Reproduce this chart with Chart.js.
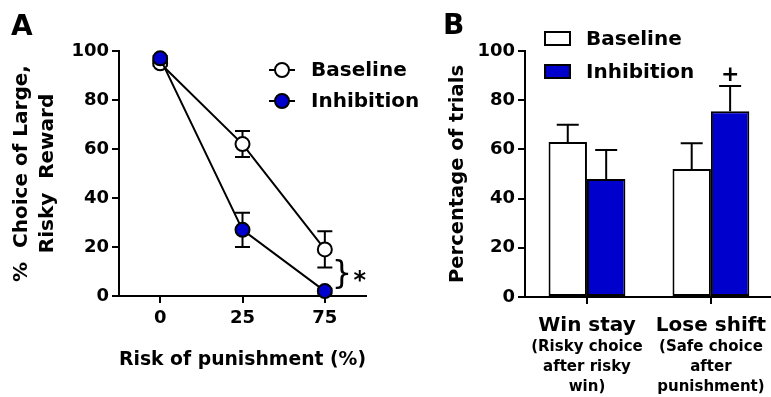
<!DOCTYPE html>
<html>
<head>
<meta charset="utf-8">
<script src="https://cdn.jsdelivr.net/npm/chart.js@4"></script>
<style>
  html, body { margin: 0; padding: 0; background: #fff; overflow: hidden; }
  #wrap { position: relative; width: 771px; height: 397px; overflow: hidden; }
  #chartA { position: absolute; left: 0; top: 0; }
  #chartB { position: absolute; left: 430px; top: 0; }
</style>
</head>
<body>
<div id="wrap">
  <canvas id="chartA" width="430" height="397"></canvas>
  <canvas id="chartB" width="346" height="397"></canvas>
</div>
<script>
/****** Panel A data ******/
var riskLabels = ["0", "25", "75"];
var baselineA = [95, 62, 19];
var baselineErrA = [1, 5.3, 7.4];
var inhibitionA = [97, 27, 2];
var inhibitionErrA = [1, 7, 1];

/****** Panel B data ******/
var strategyLabels = ["Win stay", "Lose shift"];
var strategySubLabels = [["(Risky choice", "after risky", "win)"], ["(Safe choice", "after", "punishment)"]];
var baselineB = [63, 52];
var baselineErrB = [7, 10.5];
var inhibitionB = [48, 75.5];
var inhibitionErrB = [11.8, 10.3];

var yTicks = [0, 20, 40, 60, 80, 100];
var blue = "#0000cc";
var fam = "'DejaVu Sans', sans-serif";

Chart.defaults.font.family = fam;
Chart.defaults.font.weight = "bold";
Chart.defaults.color = "#000";

// error bars drawn from the y scale
function drawErrors(chart, opts) {
  var ctx = chart.ctx, y = chart.scales.y;
  chart.data.datasets.forEach(function (ds, i) {
    var meta = chart.getDatasetMeta(i);
    meta.data.forEach(function (el, j) {
      var v = ds.data[j], e = ds.errors[j], w = opts.capWidth / 2;
      var top = y.getPixelForValue(v + e);
      var bot = opts.upOnly ? y.getPixelForValue(v) : y.getPixelForValue(v - e);
      ctx.save();
      ctx.strokeStyle = "#000";
      ctx.lineWidth = 2;
      ctx.beginPath();
      ctx.moveTo(el.x, top); ctx.lineTo(el.x, bot);
      ctx.moveTo(el.x - w, top); ctx.lineTo(el.x + w, top);
      if (!opts.upOnly) { ctx.moveTo(el.x - w, bot); ctx.lineTo(el.x + w, bot); }
      ctx.stroke();
      ctx.restore();
    });
  });
}
var errorBars = {
  id: "errorBars",
  beforeDatasetsDraw: function (chart, args, opts) { if (opts.under) drawErrors(chart, opts); },
  afterDatasetsDraw: function (chart, args, opts) { if (!opts.under) drawErrors(chart, opts); }
};

function axisGrid() {
  return { drawOnChartArea: false, tickLength: 7, color: "#000", lineWidth: 2, offset: false };
}

/************** Panel A: line chart ******/
var decorA = {
  id: "decorA",
  afterDraw: function (chart) {
    var ctx = chart.ctx, x = chart.scales.x, y = chart.scales.y;
    ctx.save();
    ctx.fillStyle = "#000";
    ctx.font = "bold 28px " + fam;
    ctx.textBaseline = "alphabetic";
    ctx.fillText("A", 11, 35);
    // legend
    chart.data.datasets.forEach(function (ds, i) {
      var cy = 70 + i * 31, cx = 282;
      ctx.strokeStyle = "#000"; ctx.lineWidth = 2;
      ctx.beginPath(); ctx.moveTo(cx - 13, cy); ctx.lineTo(cx + 13, cy); ctx.stroke();
      ctx.beginPath(); ctx.arc(cx, cy, 7, 0, Math.PI * 2);
      ctx.fillStyle = ds.pointBackgroundColor; ctx.fill(); ctx.stroke();
      ctx.fillStyle = "#000";
      ctx.font = "bold 20px " + fam;
      ctx.textBaseline = "middle";
      ctx.fillText(ds.label, 311, cy + 1);
    });
    // significance brace
    var bx = x.getPixelForValue(2) + 17, by = y.getPixelForValue(8.5);
    ctx.font = "normal 32px " + fam;
    ctx.textAlign = "center";
    ctx.textBaseline = "middle";
    ctx.fillText("}", bx, by);
    ctx.font = "bold 24px " + fam;
    ctx.fillText("*", bx + 18, by + 7);
    ctx.restore();
  }
};

new Chart("chartA", {
  type: "line",
  data: {
    labels: riskLabels,
    datasets: [{
      label: "Baseline",
      data: baselineA,
      errors: baselineErrA,
      borderColor: "#000",
      borderWidth: 2,
      pointRadius: 7,
      pointBorderWidth: 2,
      pointBorderColor: "#000",
      pointBackgroundColor: "#fff",
      order: 1,
      clip: false
    }, {
      label: "Inhibition",
      data: inhibitionA,
      errors: inhibitionErrA,
      borderColor: "#000",
      borderWidth: 2,
      pointRadius: 7,
      pointBorderWidth: 2,
      pointBorderColor: "#000",
      pointBackgroundColor: blue,
      order: 0,
      clip: false
    }]
  },
  options: {
    responsive: false,
    animation: false,
    events: [],
    layout: { padding: { top: 51, right: 64, left: 0, bottom: 0 } },
    plugins: {
      legend: { display: false },
      tooltip: { enabled: false },
      errorBars: { capWidth: 15, under: true, upOnly: false }
    },
    scales: {
      x: {
        offset: true,
        grid: axisGrid(),
        border: { color: "#000", width: 2 },
        ticks: { font: { size: 18 }, padding: 5, maxRotation: 0, autoSkip: false },
        title: { display: true, text: "Risk of punishment (%)", font: { size: 19.5 }, padding: { top: 0, bottom: 25 } },
        afterFit: function (s) { s.height = 101; }
      },
      y: {
        min: 0, max: 100,
        afterBuildTicks: function (s) { s.ticks = yTicks.map(function (v) { return { value: v }; }); },
        grid: axisGrid(),
        border: { color: "#000", width: 2 },
        ticks: { font: { size: 18 }, padding: 3 },
        title: { display: true, text: ["%  Choice of Large,", "Risky  Reward"], font: { size: 20, lineHeight: 1.3 }, padding: { top: 9, bottom: 0 } },
        afterFit: function (s) { s.width = 119; }
      }
    }
  },
  plugins: [errorBars, decorA]
});

/************** Panel B: bar chart ******/
var decorB = {
  id: "decorB",
  afterDraw: function (chart) {
    var ctx = chart.ctx, y = chart.scales.y;
    ctx.save();
    ctx.fillStyle = "#000";
    ctx.font = "bold 28px " + fam;
    ctx.fillText("B", 13, 34);
    // legend
    chart.data.datasets.forEach(function (ds, i) {
      var cy = 39 + i * 33;
      ctx.fillStyle = ds.backgroundColor;
      ctx.fillRect(115, cy - 7, 25, 13);
      ctx.strokeStyle = "#000"; ctx.lineWidth = 2;
      ctx.strokeRect(115, cy - 7, 25, 13);
      ctx.fillStyle = "#000";
      ctx.font = "bold 20px " + fam;
      ctx.textBaseline = "middle";
      ctx.fillText(ds.label, 156, cy + 1);
    });
    // "+" above Lose shift inhibition
    var el = chart.getDatasetMeta(1).data[1];
    var ds = chart.data.datasets[1];
    ctx.font = "bold 22px " + fam;
    ctx.textAlign = "center";
    ctx.textBaseline = "middle";
    ctx.fillText("+", el.x, y.getPixelForValue(ds.data[1] + ds.errors[1]) - 11);
    ctx.restore();
  }
};

new Chart("chartB", {
  type: "bar",
  data: {
    labels: strategyLabels,
    datasets: [{
      label: "Baseline",
      data: baselineB,
      errors: baselineErrB,
      backgroundColor: "#fff",
      borderColor: "#000",
      borderWidth: 2,
      borderSkipped: false
    }, {
      label: "Inhibition",
      data: inhibitionB,
      errors: inhibitionErrB,
      backgroundColor: blue,
      borderColor: "#000",
      borderWidth: 2,
      borderSkipped: false
    }]
  },
  options: {
    responsive: false,
    animation: false,
    events: [],
    categoryPercentage: 0.62,
    barPercentage: 1,
    layout: { padding: { top: 51, right: 0, left: 0, bottom: 0 } },
    plugins: {
      legend: { display: false },
      tooltip: { enabled: false },
      errorBars: { capWidth: 22, under: false, upOnly: true }
    },
    scales: {
      x: {
        offset: true,
        weight: 0,
        grid: axisGrid(),
        border: { color: "#000", width: 2 },
        ticks: { font: { size: 20 }, padding: 10, maxRotation: 0, autoSkip: false },
        afterFit: function (s) { s.height = 40; }
      },
      x2: {
        type: "category",
        axis: "x",
        position: "bottom",
        labels: strategySubLabels,
        offset: true,
        weight: 1,
        grid: { display: false, drawTicks: false },
        border: { display: false },
        ticks: { font: { size: 15, lineHeight: 1.333 }, padding: 0, maxRotation: 0, autoSkip: false },
        afterFit: function (s) { s.height = 60; }
      },
      y: {
        min: 0, max: 100,
        afterBuildTicks: function (s) { s.ticks = yTicks.map(function (v) { return { value: v }; }); },
        grid: axisGrid(),
        border: { color: "#000", width: 2 },
        ticks: { font: { size: 18 }, padding: 3 },
        title: { display: true, text: "Percentage of trials", font: { size: 19.5 }, padding: { top: 16, bottom: 0 } },
        afterFit: function (s) { s.width = 95; }
      }
    }
  },
  plugins: [errorBars, decorB]
});
</script>
</body>
</html>
